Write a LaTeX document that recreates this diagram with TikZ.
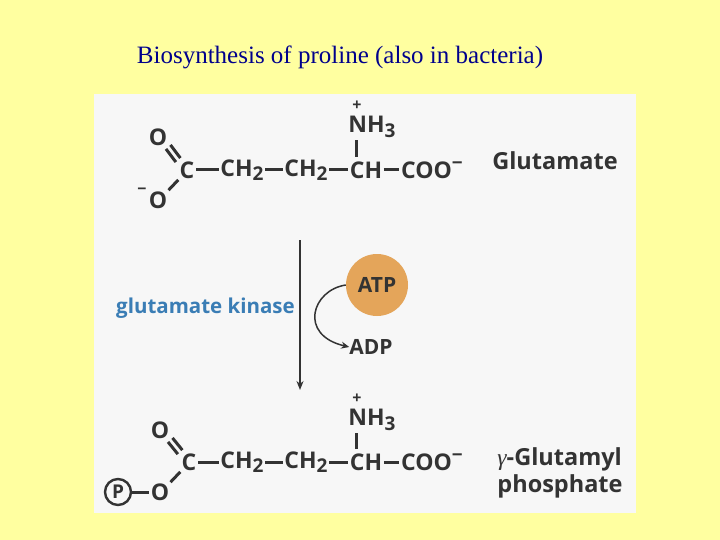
\documentclass[tikz,border=0pt]{standalone}
\usepackage{fontspec}
\usetikzlibrary{arrows.meta}
\setmainfont{Liberation Serif}
\newfontfamily\chem{Open Sans}
\newcommand{\sbs}[1]{\raisebox{-0.35ex}{\fontsize{19}{19}\selectfont #1}}
\newcommand{\sps}[1]{\raisebox{0.7ex}{\fontsize{19}{19}\selectfont #1}}
\begin{document}
\begin{tikzpicture}[x=1pt,y=-1pt,
  atm/.style={font=\chem\bfseries\fontsize{23}{23}\selectfont,text=black!80,inner sep=0.5pt},
  chg/.style={font=\chem\bfseries\fontsize{16}{16}\selectfont,text=black!80,inner sep=0pt},
  bond/.style={draw=black!80,line width=3pt,shorten >=1pt,shorten <=1pt},
  lbl/.style={font=\chem\bfseries\fontsize{23.5}{27}\selectfont,text=black!80,align=left,inner sep=0pt}]
\useasboundingbox (0,0) rectangle (720,540);
\definecolor{bgy}{RGB}{255,255,160}
\fill[bgy] (0,0) rectangle (720,540);
\fill[white!97!black] (94,94) rectangle (636,513);
\node[font=\fontsize{25}{27}\selectfont,text={rgb,255:red,0;green,0;blue,140}] (title) at (340,57) {Biosynthesis of proline (also in bacteria)};
% top molecule
\node[atm] (o1) at (158,137) {O};
\node[atm] (c1) at (187,170) {C};
\node[atm] (ch2a) at (242,170) {CH\sbs{2}};
\node[atm] (ch2b) at (306,170) {CH\sbs{2}};
\node[atm] (ch1) at (366,170) {CH};
\node[atm] (coo1) at (432,170) {COO\sps{−}};
\node[atm] (nh1) at (372,127) {NH\sbs{3}};
\node[chg] (pl1) at (357,106) {+};
\node[atm] (o2) at (158,200) {O};
\node[chg] (mi1) at (142,191) {−};
\draw[bond] ([shift={(2,-2)}]o1.south east) -- ([shift={(2,-2)}]c1.north west);
\draw[bond] ([shift={(-2.5,2)}]o1.south east) -- ([shift={(-2.5,2)}]c1.north west);
\draw[bond] (c1.south west) -- (o2.north east);
\draw[bond] (c1) -- (ch2a);
\draw[bond] (ch2a) -- (ch2b);
\draw[bond] (ch2b) -- (ch1);
\draw[bond] (ch1) -- (coo1);
\draw[bond] (356,158) -- (356,139);
\node[lbl] (glu) at (555,161) {Glutamate};
% reaction
\coordinate (a1) at (300,240);
\coordinate (a2) at (300,390);
\draw[black!80,line width=1.5pt,-{Stealth[length=9pt,width=7pt]}] (a1) -- (a2);
\node[circle,fill={rgb,255:red,228;green,165;blue,90},minimum size=62pt,inner sep=0pt,font=\chem\bfseries\fontsize{21}{21}\selectfont,text=black!80] (atp) at (377,285) {ATP};
\node[lbl,font=\chem\bfseries\fontsize{21}{21}\selectfont] (adp) at (371,347) {ADP};
\node[lbl,font=\chem\bfseries\fontsize{20.5}{22}\selectfont,text={rgb,255:red,58;green,125;blue,181},anchor=east] (gk) at (295,308) {glutamate kinase};
\draw[black!80,line width=1.5pt,-{Stealth[length=8pt,width=7pt]}] (atp.west) .. controls (312,290) and (298,335) .. (adp.west);
% bottom molecule
\node[atm] (o3) at (160,430) {O};
\node[atm] (c2) at (189,462) {C};
\node[atm] (ch2c) at (242,462) {CH\sbs{2}};
\node[atm] (ch2d) at (306,462) {CH\sbs{2}};
\node[atm] (ch2) at (366,462) {CH};
\node[atm] (coo2) at (432,462) {COO\sps{−}};
\node[atm] (nh2) at (372,420) {NH\sbs{3}};
\node[chg] (pl2) at (357,399) {+};
\node[atm] (o4) at (160,492) {O};
\node[circle,draw=black!80,line width=2.4pt,minimum size=26pt,inner sep=0pt,font=\chem\bfseries\fontsize{19}{19}\selectfont,text=black!80] (p) at (118,492) {P};
\draw[bond] ([shift={(2,-2)}]o3.south east) -- ([shift={(2,-2)}]c2.north west);
\draw[bond] ([shift={(-2.5,2)}]o3.south east) -- ([shift={(-2.5,2)}]c2.north west);
\draw[bond] (c2.south west) -- (o4.north east);
\draw[bond,shorten <=0pt] (p) -- (o4);
\draw[bond] (c2) -- (ch2c);
\draw[bond] (ch2c) -- (ch2d);
\draw[bond] (ch2d) -- (ch2);
\draw[bond] (ch2) -- (coo2);
\draw[bond] (356,450) -- (356,432);
\node[lbl] (gp) at (560,473) {{\rmfamily\mdseries\itshape γ}-Glutamyl\\phosphate};
\end{tikzpicture}
\end{document}
